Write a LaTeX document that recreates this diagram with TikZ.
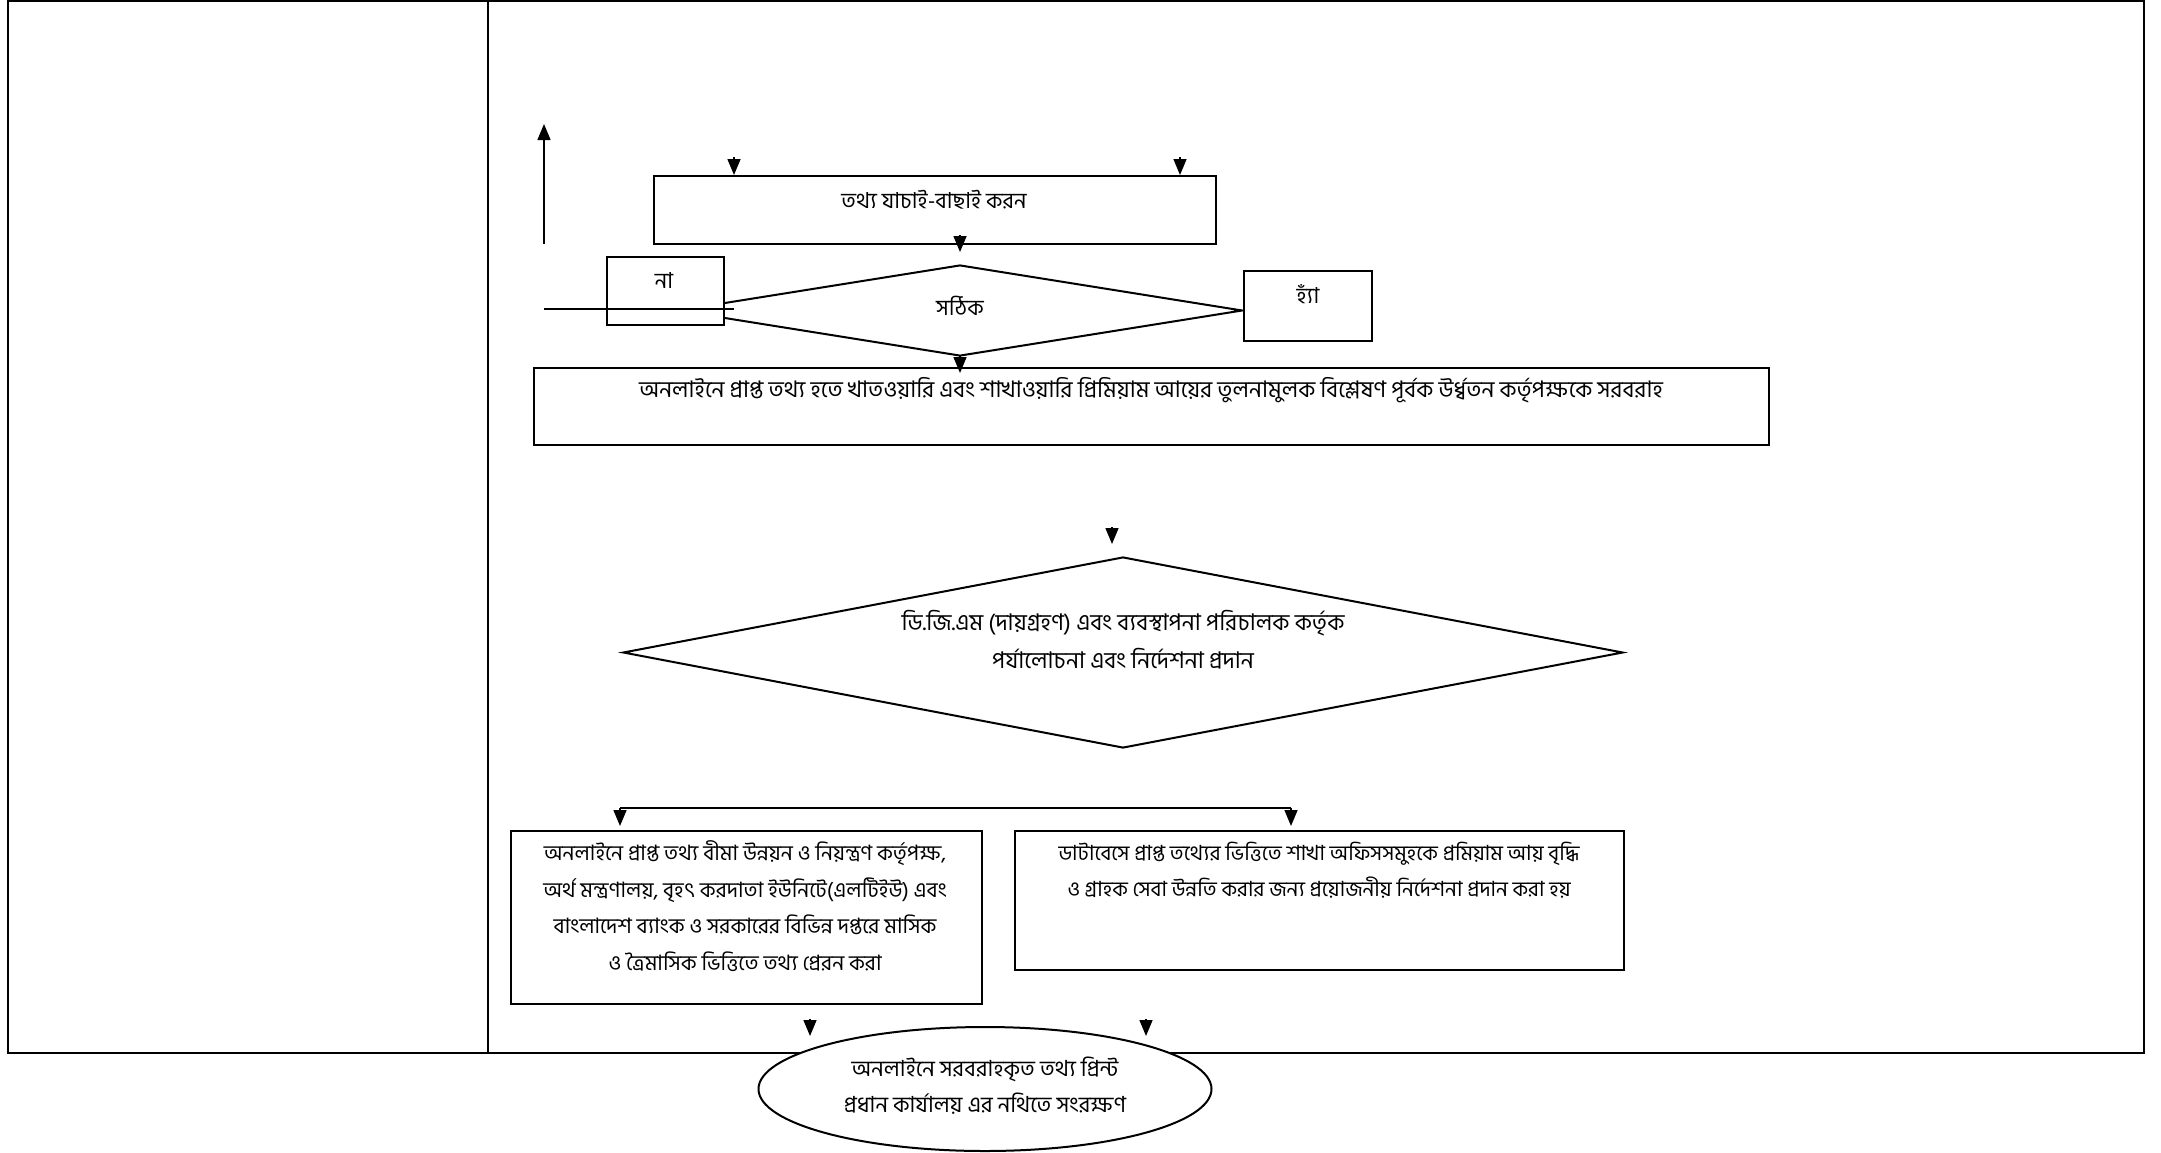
\documentclass[tikz,border=0pt]{standalone}
\usepackage{fontspec}
\newfontfamily\bn[Script=Bengali]{Hind Siliguri}
\usetikzlibrary{shapes.geometric,arrows.meta}
\begin{document}
\begin{tikzpicture}[x=1pt,y=-1pt,
  frame/.style={line width=2.6pt},
  shp/.style={draw,line width=2pt,fill=white,inner sep=0pt},
  boxn/.style={shp,rectangle,anchor=north west},
  txt/.style={font=\bn\fontsize{22}{36}\selectfont,inner sep=0pt,align=center},
  tip/.style={-{Triangle[length=16pt,width=13pt]},line width=1.5pt},
  ln/.style={line width=2pt}
]
\useasboundingbox (0,0) rectangle (2161,1152);
% table frame
\draw[frame] (8,1) rectangle (2144,1053);
\draw[frame] (488,1) -- (488,1053);

% shapes
\node[boxn,minimum width=562pt,minimum height=68pt] (box1) at (653,175) {};
\node[txt] (t1) at (934,200) {তথ্য যাচাই-বাছাই করন};

\node[shp,diamond,minimum width=565pt,minimum height=91pt] (d1) at (960,310.5) {};
\node[txt] (td1) at (960,306) {সঠিক};

\node[boxn,minimum width=117pt,minimum height=68pt] (no) at (606,256) {};
\node[txt] (tno) at (664,281) {না};

\node[boxn,minimum width=128pt,minimum height=70pt] (yes) at (1243,270) {};
\node[txt] (tyes) at (1308,294) {হ্যাঁ};

\node[boxn,minimum width=1235pt,minimum height=77pt] (box2) at (533,367) {};
\node[txt,font=\bn\fontsize{22.8}{36}\selectfont] (t2) at (1151,390) {অনলাইনে প্রাপ্ত তথ্য হতে খাতওয়ারি এবং শাখাওয়ারি প্রিমিয়াম আয়ের তুলনামুলক বিশ্লেষণ পূর্বক উর্ধ্বতন কর্তৃপক্ষকে সরবরাহ};

\node[shp,diamond,minimum width=1000pt,minimum height=191pt] (d2) at (1123,652.5) {};
\node[txt,font=\bn\fontsize{23}{38}\selectfont] (td2) at (1123,640) {ডি.জি.এম (দায়গ্রহণ) এবং ব্যবস্থাপনা পরিচালক কর্তৃক\\পর্যালোচনা এবং নির্দেশনা প্রদান};

\node[boxn,minimum width=471pt,minimum height=173pt] (box3) at (510,830) {};
\node[txt,font=\bn\fontsize{21.2}{36.5}\selectfont] (t3) at (745,906) {অনলাইনে প্রাপ্ত তথ্য বীমা উন্নয়ন ও নিয়ন্ত্রণ কর্তৃপক্ষ,\\অর্থ মন্ত্রণালয়, বৃহৎ করদাতা ইউনিটে(এলটিইউ) এবং\\বাংলাদেশ ব্যাংক ও সরকারের বিভিন্ন দপ্তরে মাসিক\\ও ত্রৈমাসিক ভিত্তিতে তথ্য প্রেরন করা};

\node[boxn,minimum width=609pt,minimum height=139pt] (box4) at (1014,830) {};
\node[txt,font=\bn\fontsize{20.9}{36}\selectfont] (t4) at (1319,870) {ডাটাবেসে প্রাপ্ত তথ্যের ভিত্তিতে শাখা অফিসসমুহকে প্রমিয়াম আয় বৃদ্ধি\\ও গ্রাহক সেবা উন্নতি করার জন্য প্রয়োজনীয় নির্দেশনা প্রদান করা হয়};

\node[shp,ellipse,minimum width=453pt,minimum height=124pt] (ell) at (985,1089) {};
\node[txt,font=\bn\fontsize{22.2}{36}\selectfont] (tell) at (985,1086) {অনলাইনে সরবরাহকৃত তথ্য প্রিন্ট\\প্রধান কার্যালয় এর নথিতে সংরক্ষণ};

% coordinates for free ends
\coordinate (upA) at (544,244);
\coordinate (upB) at (544,124);
\coordinate (hA) at (544,309);
\coordinate (hB) at (734,309);
\coordinate (a1s) at (734,157); \coordinate (a1e) at (734,175);
\coordinate (a2s) at (1180,157); \coordinate (a2e) at (1180,175);
\coordinate (a3s) at (960,235); \coordinate (a3e) at (960,252);
\coordinate (a4s) at (960,356); \coordinate (a4e) at (960,373);
\coordinate (a5s) at (1112,527); \coordinate (a5e) at (1112,544);
\coordinate (sL) at (620,808); \coordinate (sR) at (1291,808);
\coordinate (sLe) at (620,826); \coordinate (sRe) at (1291,826);
\coordinate (a6s) at (810,1019); \coordinate (a6e) at (810,1036);
\coordinate (a7s) at (1146,1019); \coordinate (a7e) at (1146,1036);

% connectors
\draw[tip] (upA) -- (upB);
\draw[ln] (hA) -- (hB);
\draw[tip] (a1s) -- (a1e);
\draw[tip] (a2s) -- (a2e);
\draw[tip] (a3s) -- (a3e);
\draw[tip] (a4s) -- (a4e);
\draw[tip] (a5s) -- (a5e);
\draw[line width=2.6pt] (sL) -- (sR);
\draw[tip] (sL) -- (sLe);
\draw[tip] (sR) -- (sRe);
\draw[tip] (a6s) -- (a6e);
\draw[tip] (a7s) -- (a7e);
\end{tikzpicture}
\end{document}
